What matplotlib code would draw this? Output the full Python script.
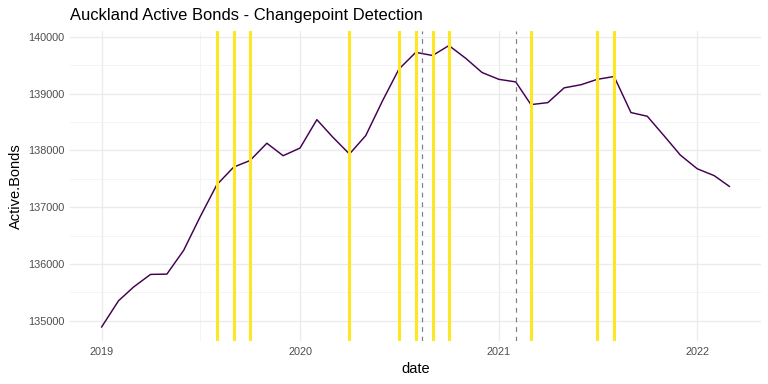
import numpy as np
import pandas as pd
import matplotlib
matplotlib.use("Agg")
import matplotlib.pyplot as plt
import matplotlib.dates as mdates
from matplotlib.ticker import MultipleLocator

plt.rcParams['font.family'] = ['Liberation Sans', 'DejaVu Sans']

# monthly series, Jan 2019 - Mar 2022
dates = pd.date_range("2019-01-01", "2022-03-01", freq="MS")
active_bonds = [
    134890, 135350, 135595, 135815, 135820, 136240, 136825, 137395, 137705, 137820, 138125, 137905,
    138040, 138540, 138235, 137935, 138260, 138875, 139430, 139725, 139670, 139845, 139620, 139370,
    139250, 139205, 138805, 138840, 139100, 139155, 139250, 139300, 138665, 138600, 138255, 137915,
    137675, 137555, 137365,
]

# detected changepoints (yellow) and reference events (dashed)
changepoints = pd.to_datetime([
    "2019-08-01", "2019-09-01", "2019-10-01", "2020-04-01", "2020-07-01", "2020-08-01",
    "2020-09-01", "2020-10-01", "2021-03-01", "2021-07-01", "2021-08-01",
])
events = pd.to_datetime(["2020-08-12", "2021-02-01"])

fig = plt.figure(figsize=(8, 4), dpi=96)
ax = fig.add_axes([0.0915, 0.112, 0.899, 0.806])

ax.plot(dates, active_bonds, color="#440154", lw=1.1, zorder=3)
for d in changepoints:
    ax.axvline(d, color="#FDE725", lw=2.3, zorder=4)
for d in events:
    ax.axvline(d, color="#7F7F7F", lw=0.9, ls=(0, (4, 4)), zorder=5)

ax.margins(x=0.05, y=0.05)

ax.xaxis.set_major_locator(mdates.YearLocator())
ax.xaxis.set_major_formatter(mdates.DateFormatter("%Y"))
ax.xaxis.set_minor_locator(mdates.MonthLocator(bymonth=7))
ax.yaxis.set_major_locator(MultipleLocator(1000))
ax.yaxis.set_minor_locator(MultipleLocator(500))

ax.grid(which="major", color="#EBEBEB", lw=1.0, zorder=0)
ax.grid(which="minor", color="#F2F2F2", lw=0.6, zorder=0)
ax.set_axisbelow(True)
for s in ax.spines.values():
    s.set_visible(False)
ax.tick_params(which="both", length=0)
ax.tick_params(axis="both", labelsize=8.2, labelcolor="#4D4D4D", pad=4.5)

ax.set_xlabel("date", fontsize=11, labelpad=4)
ax.set_ylabel("Active.Bonds", fontsize=11, labelpad=4)
ax.set_title("Auckland Active Bonds - Changepoint Detection", fontsize=12.4, loc="left", pad=8.7, x=-0.001)

fig.savefig("out.png", dpi=96)
